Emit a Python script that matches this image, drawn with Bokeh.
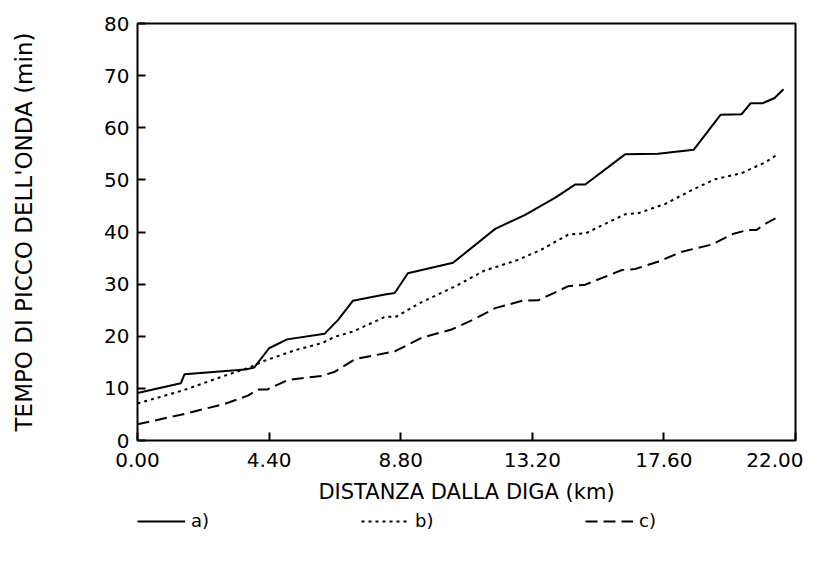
from bokeh.plotting import figure
from bokeh.models import Range1d, FixedTicker, Legend, LegendItem
from bokeh.layouts import column
from bokeh.embed import file_html
from bokeh.resources import INLINE

# --- data ---
x_a = [0, 1.45, 1.57, 3.6, 3.9, 4.4, 5.0, 6.26, 6.7, 7.2, 8.27, 8.6, 9.04, 10.55,
       11.96, 12.96, 13.97, 14.63, 14.97, 16.3, 17.4, 18.6, 19.5, 20.2, 20.5, 20.9,
       21.3, 21.6]
y_a = [9.1, 11.0, 12.7, 13.6, 14.0, 17.7, 19.4, 20.5, 23.1, 26.8, 28.0, 28.3, 32.1,
       34.1, 40.6, 43.3, 46.6, 49.1, 49.1, 54.9, 55.0, 55.8, 62.5, 62.6, 64.7, 64.7,
       65.7, 67.4]

x_b = [0, 1.57, 2.9, 3.69, 4.25, 5.26, 6.17, 6.6, 7.2, 8.27, 8.67, 9.38, 10.6, 11.6,
       12.7, 13.5, 14.4, 15.0, 16.3, 16.74, 17.65, 18.55, 19.3, 20.2, 21.0, 21.43]
y_b = [7.1, 9.7, 12.4, 13.9, 15.3, 17.3, 18.7, 19.9, 20.9, 23.7, 23.8, 26.2, 29.5,
       32.6, 34.6, 36.6, 39.5, 39.8, 43.4, 43.6, 45.4, 48.1, 50.1, 51.3, 53.4, 55.0]

x_c = [0, 1.57, 2.9, 3.69, 4.02, 4.35, 5.02, 6.17, 6.6, 7.27, 8.6, 9.5, 10.5, 11.3,
       11.96, 12.86, 13.4, 14.4, 14.97, 16.2, 16.64, 17.4, 18.2, 19.2, 19.9, 20.4,
       20.7, 21.0, 21.33]
y_c = [3.1, 5.1, 7.0, 8.6, 9.8, 9.8, 11.6, 12.4, 13.2, 15.6, 17.1, 19.7, 21.3, 23.4,
       25.4, 26.8, 26.9, 29.6, 29.9, 32.7, 32.9, 34.3, 36.2, 37.6, 39.6, 40.4, 40.4,
       41.6, 42.6]

x_ticks = [0, 4.4, 8.8, 13.2, 17.6, 22.0]
x_tick_labels = ["0.00", "4.40", "8.80", "13.20", "17.60", "22.00"]
y_ticks = [0, 10, 20, 30, 40, 50, 60, 70, 80]
y_tick_labels = ["0", "10", "20", "30", "40", "50", "60", "70", "80"]

series_labels = ["a)", "b)", "c)"]
series_x = [x_a, x_b, x_c]
series_y = [y_a, y_b, y_c]

FONT = "DejaVu Sans"
STYLES = [dict(line_color="black", line_width=2),
          dict(line_color="black", line_width=2, line_dash="3 4"),
          dict(line_color="black", line_width=2, line_dash="12 6")]

p = figure(frame_width=658, frame_height=417, output_backend="svg",
           toolbar_location=None,
           x_range=Range1d(0, 22), y_range=Range1d(0, 80),
           min_border_left=137, min_border_right=8, min_border_top=23,
           min_border_bottom=70)
p.grid.visible = False
p.background_fill_color = "white"
p.border_fill_color = "white"
p.outline_line_color = "black"
p.outline_line_width = 2
p.outline_line_alpha = 1.0

for xs, ys, st in zip(series_x, series_y, STYLES):
    p.line(xs, ys, **st)

for ax in (p.xaxis[0], p.yaxis[0]):
    ax.axis_line_color = None
    ax.major_tick_in = 8
    ax.major_tick_out = 0
    ax.major_tick_line_color = "black"
    ax.major_tick_line_width = 2
    ax.minor_tick_line_color = None
    ax.major_label_text_font = FONT
    ax.major_label_text_font_size = "20px"
    ax.major_label_text_color = "black"
    ax.axis_label_text_font = FONT
    ax.axis_label_text_font_style = "normal"
    ax.axis_label_text_color = "black"

p.xaxis.ticker = FixedTicker(ticks=x_ticks)
p.xaxis.major_label_overrides = dict(zip(x_ticks, x_tick_labels))
p.xaxis.major_label_standoff = 12
p.xaxis.axis_label = "DISTANZA DALLA DIGA (km)"
p.xaxis.axis_label_text_font_size = "21px"
p.xaxis.axis_label_standoff = 10

p.yaxis.ticker = FixedTicker(ticks=y_ticks)
p.yaxis.major_label_overrides = dict(zip(y_ticks, y_tick_labels))
p.yaxis.major_label_standoff = 8
p.yaxis.axis_label = "TEMPO DI PICCO DELL'ONDA (min)"
p.yaxis.axis_label_text_font_size = "23px"
p.yaxis.axis_label_standoff = 64

# legend strip below the chart: same series drawn on a strip whose ranges
# exclude all data, so only the legend samples are visible there
lg = figure(width=803, height=36, output_backend="svg", toolbar_location=None,
            x_axis_type=None, y_axis_type=None,
            x_range=Range1d(-10, -9), y_range=Range1d(-10, -9),
            min_border_left=112, min_border_right=0, min_border_top=0,
            min_border_bottom=0)
lg.grid.visible = False
lg.outline_line_color = None
lg.background_fill_color = "white"
lg.border_fill_color = "white"
legend_renderers = [lg.line(xs, ys, **st)
                    for xs, ys, st in zip(series_x, series_y, STYLES)]

legend = Legend(items=[LegendItem(label=lab, renderers=[r])
                       for lab, r in zip(series_labels, legend_renderers)],
                orientation="horizontal", location="top_left",
                glyph_width=48, glyph_height=16, label_standoff=6,
                label_width=150, spacing=20, padding=0, margin=0,
                border_line_color=None, background_fill_alpha=0,
                label_text_font=FONT, label_text_font_size="18px",
                label_text_color="black")
lg.add_layout(legend)

layout = column(p, lg, spacing=0)
open("out.html", "w").write(file_html(layout, INLINE))
